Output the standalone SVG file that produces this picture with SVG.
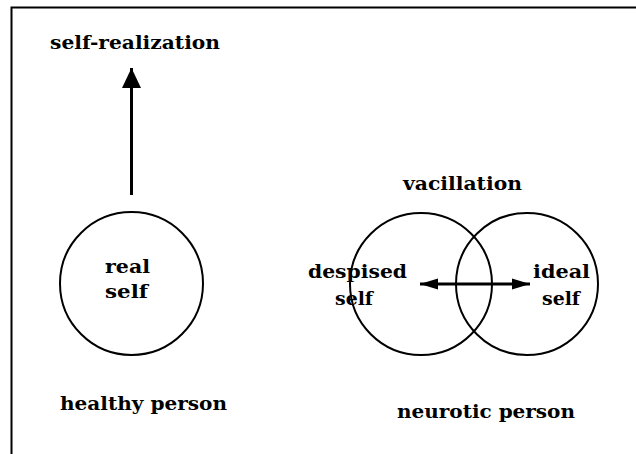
<svg xmlns="http://www.w3.org/2000/svg" width="636" height="454" viewBox="0 0 636 454">
<style>
text{font-family:"DejaVu Serif","Liberation Serif",serif;font-weight:bold;font-size:19px;fill:#000}
.c{fill:none;stroke:#000;stroke-width:2}
.l{stroke:#000;stroke-width:3;fill:none}
</style>
<defs>
<marker id="ah" viewBox="0 0 20 20" refX="20" refY="10" markerWidth="20" markerHeight="20" markerUnits="userSpaceOnUse" orient="auto-start-reverse">
<path d="M0,0.5 L20,10 L0,19.5 Z" fill="#000"/>
</marker>
<marker id="ah2" viewBox="0 0 18 12" refX="18" refY="6" markerWidth="18" markerHeight="12" markerUnits="userSpaceOnUse" orient="auto-start-reverse">
<path d="M0,0.5 L18,6 L0,11.5 Z" fill="#000"/>
</marker>
</defs>
<rect width="636" height="454" fill="#fff"/>
<path d="M11.5,460 V7.5 H640" fill="none" stroke="#000" stroke-width="2"/>
<g id="self-realization"><text x="50" y="49" textLength="170" lengthAdjust="spacingAndGlyphs">self-realization</text></g>
<g id="real-self">
<circle class="c" cx="131.5" cy="283.5" r="71.5"/>
<text x="105" y="273" textLength="45" lengthAdjust="spacingAndGlyphs">real</text>
<text x="105" y="298" textLength="43" lengthAdjust="spacingAndGlyphs">self</text>
</g>
<g id="healthy"><text x="60" y="410" textLength="167" lengthAdjust="spacingAndGlyphs">healthy person</text></g>
<g id="vacillation"><text x="403" y="190" textLength="119" lengthAdjust="spacingAndGlyphs">vacillation</text></g>
<g id="despised-self">
<circle class="c" cx="421" cy="284" r="71"/>
<text x="308" y="278" textLength="99" lengthAdjust="spacingAndGlyphs">despised</text>
<text x="335" y="305" textLength="38" lengthAdjust="spacingAndGlyphs">self</text>
</g>
<g id="ideal-self">
<circle class="c" cx="527" cy="284" r="71"/>
<text x="533" y="278" textLength="57" lengthAdjust="spacingAndGlyphs">ideal</text>
<text x="542" y="305" textLength="38" lengthAdjust="spacingAndGlyphs">self</text>
</g>
<g id="neurotic"><text x="397" y="418" textLength="178" lengthAdjust="spacingAndGlyphs">neurotic person</text></g>
<g id="connectors">
<line class="l" x1="131.5" y1="195" x2="131.5" y2="68" marker-end="url(#ah)"/>
<line class="l" x1="420" y1="284" x2="530" y2="284" marker-start="url(#ah2)" marker-end="url(#ah2)"/>
</g>
</svg>
